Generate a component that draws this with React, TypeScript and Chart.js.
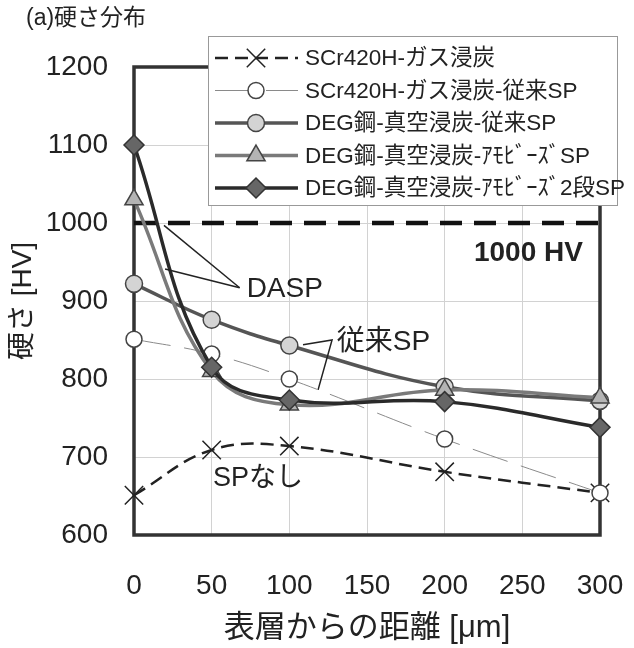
import React, { useEffect, useRef } from 'react';
import { Chart, registerables } from 'chart.js';
import { drawPoint } from 'chart.js/helpers';

Chart.register(...registerables);

// ---- data ----
const depths = [0, 50, 100, 200, 300];
const seriesNames = [
  'SCr420H-ガス浸炭',
  'SCr420H-ガス浸炭-従来SP',
  'DEG鋼-真空浸炭-従来SP',
  'DEG鋼-真空浸炭-ｱﾓﾋﾞｰｽﾞSP',
  'DEG鋼-真空浸炭-ｱﾓﾋﾞｰｽﾞ2段SP',
];
const scrGas = [651, 709, 714, 681, 654];
const scrGasSP = [851, 832, 800, 723, 654];
const degConvSP = [922, 876, 843, 790, 772];
const degAmoSP = [1030, 810, 767, 786, 776];
const degAmo2SP = [1100, 815, 773, 771, 738];
const thresholdX = [0, 300];
const thresholdValue = 1000;
const thresholdLabel = '1000 HV';
const yMin = 600, yMax = 1200, yStep = 100;
const xMin = 0, xMax = 300, xStep = 50;
const chartTitle = '(a)硬さ分布';
const yTitle = '硬さ [HV]';
const xTitle = '表層からの距離 [μm]';

// annotations (data units)
const daspText = 'DASP';
const daspJoin = [68, 917];
const daspEnds = [[19.3, 997], [20, 941]];
const convText = '従来SP';
const convPath = [[108.8, 844], [127.5, 850], [118.5, 786]];
const convTextAt = [130.5, 847];
const noSpText = 'SPなし';
const noSpAt = [79.8, 673];
const thresholdLabelAt = [289, 961];

const FONT = "'Liberation Sans', Arial, 'Noto Sans CJK JP', sans-serif";

const styles = [
  { color: '#222', width: 2.5, dash: [13, 7], pointStyle: 'crossRot', radius: 13, fill: '#222', pBorder: '#222', pWidth: 1.5 },
  { color: '#8a8a8a', width: 1, dash: [37, 14], pointStyle: 'circle', radius: 8, fill: '#ffffff', pBorder: '#444', pWidth: 1.5 },
  { color: '#555', width: 3.5, dash: [], pointStyle: 'circle', radius: 8.5, fill: '#d4d4d4', pBorder: '#444', pWidth: 1.5 },
  { color: '#7a7a7a', width: 3.5, dash: [], pointStyle: 'triangle', radius: 10.5, fill: '#b4b4b4', pBorder: '#444', pWidth: 1.5 },
  { color: '#2a2a2a', width: 3.5, dash: [], pointStyle: 'rectRot', radius: 10, fill: '#666', pBorder: '#333', pWidth: 1.5 },
];

const seriesValues = [scrGas, scrGasSP, degConvSP, degAmoSP, degAmo2SP];

const framePlugin = {
  id: 'frame',
  beforeDatasetsDraw(chart: any) {
    const { ctx, chartArea: a } = chart;
    ctx.save();
    ctx.strokeStyle = '#333';
    ctx.lineWidth = 3.5;
    ctx.strokeRect(a.left, a.top, a.right - a.left, a.bottom - a.top);
    ctx.restore();
  },
};

const annotPlugin = {
  id: 'annot',
  afterDatasetsDraw(chart: any) {
    const { ctx } = chart;
    const xs = chart.scales.x, ys = chart.scales.y;
    const P = (p: number[]) => [xs.getPixelForValue(p[0]), ys.getPixelForValue(p[1])];
    ctx.save();
    ctx.strokeStyle = '#222';
    ctx.lineWidth = 1.5;
    const j = P(daspJoin);
    daspEnds.forEach((e) => {
      const q = P(e);
      ctx.beginPath();
      ctx.moveTo(j[0], j[1]);
      ctx.lineTo(q[0], q[1]);
      ctx.stroke();
    });
    ctx.beginPath();
    convPath.forEach((p, i) => {
      const q = P(p);
      if (i === 0) ctx.moveTo(q[0], q[1]);
      else ctx.lineTo(q[0], q[1]);
    });
    ctx.stroke();
    ctx.fillStyle = '#222';
    ctx.font = `28px ${FONT}`;
    ctx.textBaseline = 'middle';
    ctx.textAlign = 'left';
    ctx.fillText(daspText, j[0] + 7, j[1] + 2);
    const c = P(convTextAt);
    ctx.fillText(convText, c[0], c[1]);
    ctx.textAlign = 'center';
    ctx.font = `27px ${FONT}`;
    const n = P(noSpAt);
    ctx.fillText(noSpText, n[0], n[1]);
    ctx.textAlign = 'right';
    ctx.font = `bold 28px ${FONT}`;
    const t = P(thresholdLabelAt);
    ctx.fillText(thresholdLabel, t[0], t[1]);
    ctx.restore();
  },
};

const legendPlugin = {
  id: 'customLegend',
  afterDraw(chart: any) {
    const { ctx } = chart;
    ctx.save();
    const bx = 208, by = 36, bw = 409, bh = 169;
    ctx.fillStyle = '#fff';
    ctx.fillRect(bx, by, bw, bh);
    ctx.strokeStyle = '#999';
    ctx.lineWidth = 1;
    ctx.strokeRect(bx + 0.5, by + 0.5, bw, bh);
    const rowH = 32.5;
    seriesNames.forEach((name, i) => {
      const s = styles[i];
      const y = by + 22 + i * rowH;
      ctx.save();
      ctx.strokeStyle = s.color;
      ctx.lineWidth = s.width;
      ctx.setLineDash(s.dash);
      ctx.beginPath();
      ctx.moveTo(215, y);
      ctx.lineTo(298, y);
      ctx.stroke();
      ctx.setLineDash([]);
      ctx.fillStyle = s.fill;
      ctx.strokeStyle = s.pBorder;
      ctx.lineWidth = s.pWidth;
      drawPoint(ctx, { pointStyle: s.pointStyle as any, radius: s.radius, rotation: 0, borderWidth: s.pWidth }, 256, y);
      ctx.restore();
      ctx.fillStyle = '#222';
      ctx.font = `22.5px ${FONT}`;
      ctx.textBaseline = 'middle';
      ctx.textAlign = 'left';
      ctx.fillText(name, 305, y + 1);
    });
    ctx.fillStyle = '#222';
    ctx.font = `23px ${FONT}`;
    ctx.textBaseline = 'middle';
    ctx.textAlign = 'left';
    ctx.fillText(chartTitle, 26, 19);
    ctx.restore();
  },
};

export default function App() {
  const ref = useRef<HTMLCanvasElement | null>(null);
  useEffect(() => {
    document.body.style.margin = '0';
    if (!ref.current) return;
    const datasets: any[] = seriesNames.map((name, i) => {
      const s = styles[i];
      return {
        label: name,
        data: depths.map((d, k) => ({ x: d, y: seriesValues[i][k] })),
        borderColor: s.color,
        borderWidth: s.width,
        borderDash: s.dash,
        tension: 0.4,
        pointStyle: s.pointStyle,
        pointRadius: s.radius,
        pointBackgroundColor: s.fill,
        pointBorderColor: s.pBorder,
        pointBorderWidth: s.pWidth,
        clip: false,
        order: 4 - i,
      };
    });
    datasets.push({
      label: thresholdLabel,
      data: thresholdX.map((x) => ({ x, y: thresholdValue })),
      borderColor: '#111',
      borderWidth: 4.5,
      borderDash: [22, 12],
      pointRadius: 0,
      clip: false,
      order: 10,
    });
    const chart = new Chart(ref.current, {
      type: 'line',
      data: { datasets },
      plugins: [framePlugin, annotPlugin, legendPlugin],
      options: {
        animation: false,
        responsive: false,
        layout: { padding: { top: 67, right: 34, left: 0, bottom: 0 } },
        plugins: { legend: { display: false }, tooltip: { enabled: false } },
        scales: {
          x: {
            type: 'linear',
            min: xMin,
            max: xMax,
            afterFit: (s: any) => { s.height = 113; s.paddingLeft = 0; s.paddingRight = 0; },
            ticks: { stepSize: xStep, padding: 34, color: '#222', font: { size: 28, family: FONT }, callback: (v: any) => String(v) },
            grid: { color: '#d2d2d2', lineWidth: 1, drawTicks: false },
            border: { display: false },
            title: { display: true, text: xTitle, color: '#222', font: { size: 31, family: FONT }, padding: { top: 0, bottom: 1 } },
          },
          y: {
            type: 'linear',
            min: yMin,
            max: yMax,
            afterFit: (s: any) => { s.width = 134; s.paddingTop = 0; s.paddingBottom = 0; },
            ticks: { stepSize: yStep, padding: 26, color: '#222', font: { size: 28, family: FONT }, callback: (v: any) => String(v) },
            grid: { color: '#d2d2d2', lineWidth: 1, drawTicks: false },
            border: { display: false },
            title: { display: true, text: yTitle, color: '#222', font: { size: 28, family: FONT }, padding: { top: 6, bottom: 0 } },
          },
        },
      } as any,
    });
    return () => chart.destroy();
  }, []);
  return (
    <div style={{ width: 634, height: 648 }}>
      <canvas ref={ref} width={634} height={648} />
    </div>
  );
}
